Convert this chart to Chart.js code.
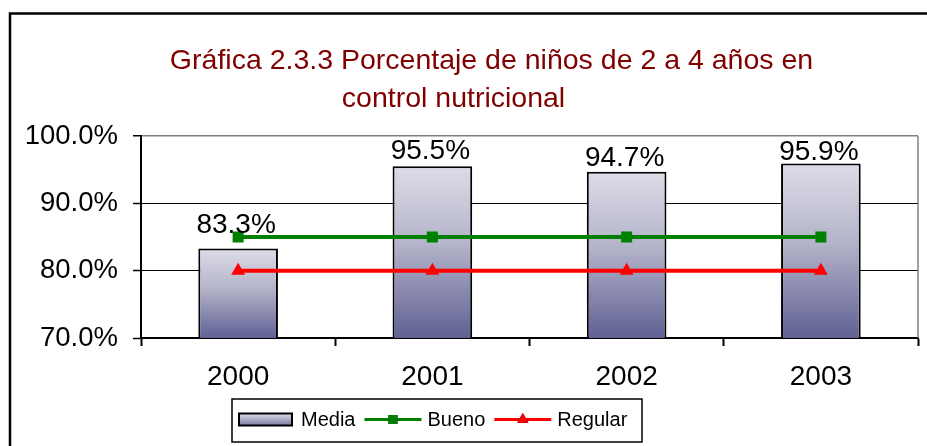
<!DOCTYPE html>
<html lang="es">
<head>
    <meta charset="utf-8">
    <title>Gráfica 2.3.3</title>
    <script src="https://cdn.jsdelivr.net/npm/chart.js"></script>
    <style>
        html, body { margin: 0; padding: 0; background: #fff; }
        #chartCanvas { display: block; }
    </style>
</head>
<body>
    <canvas id="chartCanvas" width="927" height="446"></canvas>
<script>
    // chart data
    const years = ['2000', '2001', '2002', '2003'];
    const media = [83.3, 95.5, 94.7, 95.9];
    const bueno = [85, 85, 85, 85];
    const regular = [80, 80, 80, 80];
    const yMin = 70, yMax = 100, yStep = 10;
    const titleLines = ['Gráfica 2.3.3 Porcentaje de niños de 2 a 4 años en', 'control nutricional'];
    const seriesNames = ['Media', 'Bueno', 'Regular'];

    const FONT = "'Liberation Sans', Arial, sans-serif";

    // light at the top of each bar, slate blue at the bottom
    function barGradient(c) {
        const chart = c.chart;
        const area = chart.chartArea;
        if (!area || c.type !== 'data') return '#a8a8c4';
        const top = chart.scales.y.getPixelForValue(c.raw);
        const g = chart.ctx.createLinearGradient(0, top, 0, area.bottom);
        g.addColorStop(0, '#dcdce8');
        g.addColorStop(0.45, '#b4b4ca');
        g.addColorStop(1, '#606094');
        return g;
    }

    // outer frame, title, right border of plot area
    const framePlugin = {
        id: 'frame',
        beforeDraw(chart) {
            const ctx = chart.ctx;
            ctx.save();
            ctx.strokeStyle = '#000';
            ctx.lineWidth = 2.5;
            ctx.beginPath();
            ctx.moveTo(10, 446);
            ctx.lineTo(10, 13.5);
            ctx.lineTo(927, 13.5);
            ctx.stroke();

            ctx.fillStyle = '#800000';
            ctx.font = '28.5px ' + FONT;
            ctx.textBaseline = 'alphabetic';
            ctx.textAlign = 'center';
            ctx.fillText(titleLines[0], 491.5, 68.5);
            ctx.fillText(titleLines[1], 453.5, 106.5);
            ctx.restore();
        },
        beforeDatasetsDraw(chart) {
            const a = chart.chartArea;
            const ctx = chart.ctx;
            ctx.save();
            ctx.strokeStyle = '#808080';
            ctx.lineWidth = 1.5;
            ctx.beginPath();
            ctx.moveTo(a.right, a.top);
            ctx.lineTo(a.right, a.bottom);
            ctx.stroke();
            ctx.restore();
        }
    };

    // value labels over the bars
    const labelPlugin = {
        id: 'barLabels',
        afterDatasetsDraw(chart, args, opts) {
            const ctx = chart.ctx;
            const meta = chart.getDatasetMeta(0);
            ctx.save();
            ctx.fillStyle = '#000';
            ctx.font = '28px ' + FONT;
            ctx.textAlign = 'center';
            ctx.textBaseline = 'alphabetic';
            meta.data.forEach((bar, i) => {
                const lift = opts.lift[i] || 6;
                ctx.fillText(media[i].toFixed(1) + '%', bar.x - 2, bar.y - lift);
            });
            ctx.restore();
        }
    };

    // boxed legend at the bottom, with line + marker symbols
    const legendPlugin = {
        id: 'boxLegend',
        afterDraw(chart) {
            const ctx = chart.ctx;
            const ds = chart.data.datasets;
            const boxL = 232, boxT = 399, boxR = 642, boxB = 442;
            const midY = 419.5;
            ctx.save();
            ctx.strokeStyle = '#000';
            ctx.lineWidth = 1.5;
            ctx.strokeRect(boxL, boxT, boxR - boxL, boxB - boxT);

            ctx.font = '20px ' + FONT;
            ctx.textBaseline = 'middle';
            ctx.textAlign = 'left';
            let x = boxL + 7;
            ds.forEach((d, i) => {
                if (i === 0) {
                    const g = ctx.createLinearGradient(0, midY - 6, 0, midY + 6);
                    g.addColorStop(0, '#dcdce8');
                    g.addColorStop(1, '#7a7aa4');
                    ctx.fillStyle = g;
                    ctx.fillRect(x, midY - 6, 53, 12);
                    ctx.lineWidth = 2;
                    ctx.strokeStyle = '#000';
                    ctx.strokeRect(x, midY - 6, 53, 12);
                    x += 53 + 9;
                } else {
                    ctx.strokeStyle = d.borderColor;
                    ctx.lineWidth = 3;
                    ctx.beginPath();
                    ctx.moveTo(x, midY);
                    ctx.lineTo(x + 57, midY);
                    ctx.stroke();
                    Chart.helpers.drawPoint(ctx, {
                        pointStyle: d.pointStyle,
                        radius: d.pointStyle === 'rect' ? 6.4 : 6.5,
                        borderWidth: 0
                    }, x + 28.5, midY);
                    ctx.fillStyle = d.borderColor;
                    ctx.fill();
                    x += 57 + 6;
                }
                ctx.fillStyle = '#000';
                ctx.fillText(d.label, x, midY + 1);
                x += ctx.measureText(d.label).width + 9;
            });
            ctx.restore();
        }
    };

    const ctx = document.getElementById('chartCanvas').getContext('2d');
    const chart = new Chart(ctx, {
        data: {
            labels: years,
            datasets: [{
                type: 'bar',
                label: seriesNames[0],
                data: media,
                backgroundColor: barGradient,
                borderColor: '#000',
                borderWidth: 2,
                borderSkipped: false,
                barPercentage: 0.41,
                categoryPercentage: 1,
                order: 3
            }, {
                type: 'line',
                label: seriesNames[1],
                data: bueno,
                borderColor: '#008000',
                backgroundColor: '#008000',
                borderWidth: 4,
                pointStyle: 'rect',
                pointRadius: 7.8,
                pointBorderWidth: 0,
                pointBackgroundColor: '#008000',
                order: 1
            }, {
                type: 'line',
                label: seriesNames[2],
                data: regular,
                borderColor: '#ff0000',
                backgroundColor: '#ff0000',
                borderWidth: 4,
                pointStyle: 'triangle',
                pointRadius: 8,
                pointBorderWidth: 0,
                pointBackgroundColor: '#ff0000',
                order: 2
            }]
        },
        options: {
            responsive: false,
            animation: false,
            devicePixelRatio: 1,
            layout: { padding: { top: 136, left: 0, right: 9, bottom: 0 } },
            plugins: {
                legend: { display: false },
                title: { display: false },
                tooltip: { enabled: false },
                barLabels: { lift: [15, 7, 6, 4] }
            },
            scales: {
                x: {
                    offset: true,
                    afterFit(scale) { scale.height = 108; },
                    grid: {
                        offset: true,
                        drawOnChartArea: false,
                        drawTicks: true,
                        tickLength: 8,
                        tickWidth: 2,
                        tickColor: '#000'
                    },
                    border: { display: true, color: '#000', width: 2 },
                    ticks: {
                        color: '#000',
                        font: { family: FONT, size: 28 },
                        padding: 14,
                        maxRotation: 0
                    }
                },
                y: {
                    min: yMin,
                    max: yMax,
                    afterFit(scale) { scale.width = 141; },
                    grid: {
                        color: c => (c.tick && c.tick.value === yMax ? '#808080' : '#000'),
                        lineWidth: c => (c.tick && c.tick.value === yMax ? 1.5 : 1),
                        drawTicks: true,
                        tickLength: 8,
                        tickColor: '#000',
                        tickWidth: 1.5
                    },
                    border: { display: true, color: '#000', width: 2 },
                    ticks: {
                        stepSize: yStep,
                        color: '#000',
                        font: { family: FONT, size: 27.5 },
                        padding: 15,
                        callback: v => v.toFixed(1) + '%'
                    }
                }
            }
        },
        plugins: [framePlugin, labelPlugin, legendPlugin]
    });
</script>
</body>
</html>
